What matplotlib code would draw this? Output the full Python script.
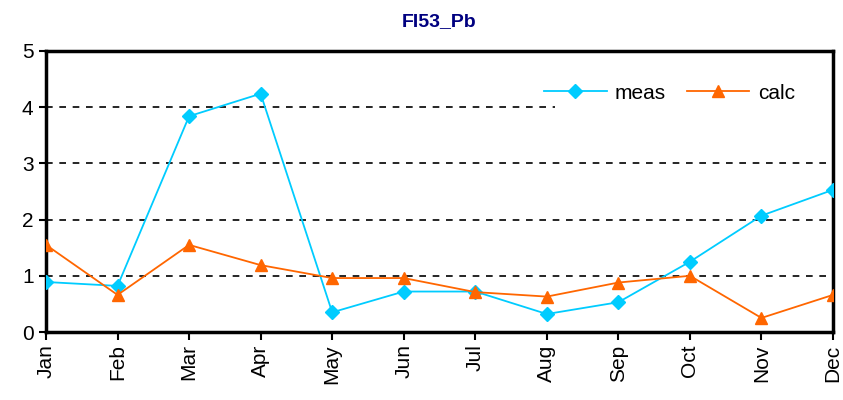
import matplotlib
matplotlib.use("Agg")
import matplotlib.pyplot as plt

months = ["Jan", "Feb", "Mar", "Apr", "May", "Jun", "Jul", "Aug", "Sep", "Oct", "Nov", "Dec"]
meas = [0.89, 0.82, 3.84, 4.24, 0.35, 0.72, 0.72, 0.32, 0.53, 1.25, 2.07, 2.53]
calc = [1.55, 0.66, 1.55, 1.19, 0.96, 0.96, 0.71, 0.63, 0.88, 1.00, 0.25, 0.66]

plt.rcParams['font.family'] = ['Liberation Sans', 'DejaVu Sans']

fig = plt.figure(figsize=(8.43, 4.0), dpi=100)
ax = fig.add_axes([46/843, 1-332/400, (833-46)/843, (332-51)/400])

x = list(range(len(months)))
ax.plot(x, meas, color="#00CCFF", marker="D", markersize=7, linewidth=1.3, label="meas", zorder=3)
ax.plot(x, calc, color="#FF6600", marker="^", markersize=9, linewidth=1.3, label="calc", zorder=3)

ax.set_xlim(0, 11)
ax.set_ylim(0, 5)
ax.set_yticks([0, 1, 2, 3, 4, 5])
ax.set_xticks(x)
ax.set_xticklabels(months, rotation=90, fontsize=15)
ax.tick_params(axis='y', labelsize=15, length=5, width=1.5, direction='out', pad=4)
ax.tick_params(axis='x', length=6, width=1.5, direction='out', pad=3)

# gridlines; the top one is hidden behind the legend box on the right
for yv in [1, 2, 3]:
    ax.axhline(yv, color='black', linestyle=(0, (4, 4)), linewidth=1.2, zorder=1)
ax.axhline(4, xmin=0, xmax=0.647, color='black', linestyle=(0, (4, 4)), linewidth=1.2, zorder=1)

for s in ax.spines.values():
    s.set_linewidth(2.5)
    s.set_color('black')

leg = ax.legend(loc='center right', bbox_to_anchor=(0.97, 0.85), ncol=2, fontsize=15,
                frameon=False, handlelength=3.0, columnspacing=1.0, handletextpad=0.4,
                borderpad=0.2)
leg.set_zorder(2)

fig.text(0.5 * (46 + 833) / 843, 1 - 22/400, "FI53_Pb", ha='center', va='center',
         fontsize=14, fontweight='bold', color='#000080',
         family=['Liberation Sans Narrow', 'Liberation Sans', 'DejaVu Sans'])

fig.savefig("out.png", dpi=100)
